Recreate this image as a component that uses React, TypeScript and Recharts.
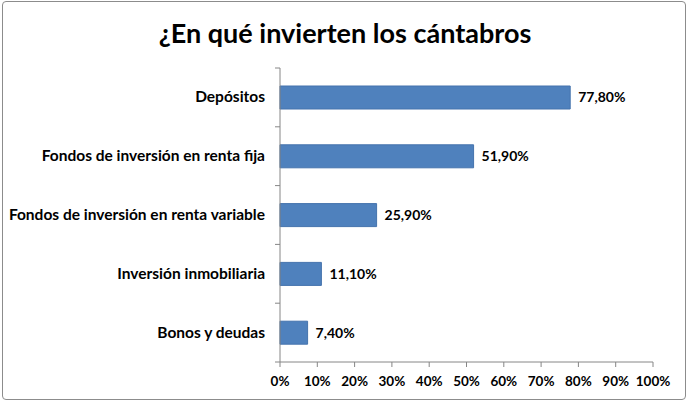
import React from "react";
import { BarChart, Bar, XAxis, YAxis, LabelList } from "recharts";

const categories = [
  "Depósitos",
  "Fondos de inversión en renta fija",
  "Fondos de inversión en renta variable",
  "Inversión inmobiliaria",
  "Bonos y deudas",
];
const shares = [77.8, 51.9, 25.9, 11.1, 7.4];
const xTicks = [0, 10, 20, 30, 40, 50, 60, 70, 80, 90, 100];

const data = categories.map((name, i) => ({ name, value: shares[i] }));

const font = "Lato, 'Open Sans', sans-serif";
const W = 690;
const H = 403;
const xAxisHeight = 30;
const margin = { top: 68, right: 37, bottom: 11, left: 0 };
const band = (H - margin.top - margin.bottom - xAxisHeight) / categories.length;
const labelGap = 15;

const CategoryTick = (props: any) => {
  const { x, y, payload, index } = props;
  const axisX = x + labelGap;
  return (
    <g>
      <line x1={axisX - 5} x2={axisX} y1={y - band / 2} y2={y - band / 2} stroke="#868686" />
      {index === categories.length - 1 && (
        <line x1={axisX - 5} x2={axisX} y1={y + band / 2} y2={y + band / 2} stroke="#868686" />
      )}
      <text x={x} y={y} dy={5} textAnchor="end" fontFamily={font} fontWeight={700} fontSize={15.5} fill="#000">
        {payload.value}
      </text>
    </g>
  );
};

const fmt = (v: any) => Number(v).toFixed(2).replace(".", ",") + "%";

export default function App() {
  return (
    <div
      style={{
        position: "absolute",
        left: 0,
        top: 0,
        width: W,
        height: H,
        background: "#fff",
      }}
    >
      <div
        style={{
          position: "absolute",
          left: 2,
          top: 1,
          width: W - 6,
          height: H - 4,
          border: "1.5px solid #8c8c8c",
          borderRadius: 4,
          boxSizing: "border-box",
        }}
      />
      <div
        style={{
          position: "absolute",
          left: 0,
          width: W,
          top: 16,
          textAlign: "center",
          fontFamily: font,
          fontWeight: 700,
          fontSize: 27,
          color: "#000",
        }}
      >
        ¿En qué invierten los cántabros
      </div>
      <div style={{ position: "absolute", left: 0, top: 0 }}>
        <BarChart width={W} height={H} data={data} layout="vertical" margin={margin} barSize={23}>
          <XAxis
            type="number"
            domain={[0, 100]}
            ticks={xTicks}
            height={xAxisHeight}
            tickFormatter={(v) => `${v}%`}
            axisLine={{ stroke: "#868686" }}
            tickLine={{ stroke: "#868686" }}
            tickSize={5}
            tickMargin={9}
            interval={0}
            tick={{ fontFamily: font, fontWeight: 700, fontSize: 13.5, fill: "#000" }}
          />
          <YAxis
            type="category"
            dataKey="name"
            width={280}
            axisLine={{ stroke: "#868686" }}
            tickLine={false}
            tickSize={0}
            tickMargin={labelGap}
            interval={0}
            tick={<CategoryTick />}
          />
          <Bar dataKey="value" fill="#4F81BD" stroke="#4573ad" isAnimationActive={false}>
            <LabelList
              dataKey="value"
              position="right"
              offset={8}
              formatter={fmt}
              style={{ fontFamily: font, fontWeight: 700, fontSize: 14, fill: "#000" }}
            />
          </Bar>
        </BarChart>
      </div>
    </div>
  );
}
